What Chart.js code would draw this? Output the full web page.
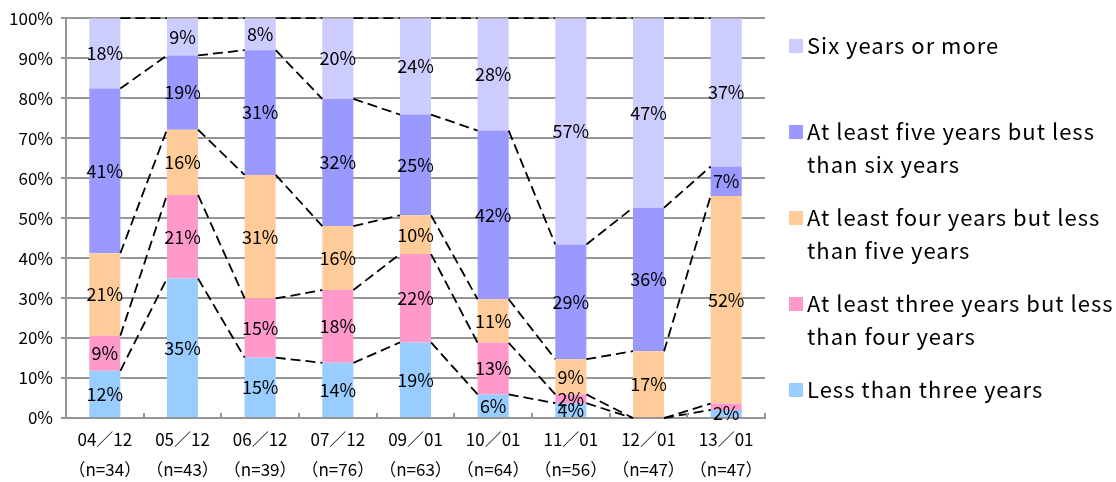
<!DOCTYPE html>
<html>
<head>
<meta charset="utf-8">
<script src="https://cdn.jsdelivr.net/npm/chart.js@4/dist/chart.umd.min.js"></script>
<style>
html, body { margin: 0; padding: 0; background: #fff; }
</style>
</head>
<body>
<canvas id="tenure__chart" width="1116" height="482"></canvas>
<script>
var categories = ["04／12","05／12","06／12","07／12","09／01","10／01","11／01","12／01","13／01"];
var sampleSizes = [34, 43, 39, 76, 63, 64, 56, 47, 47];

var lessThree   = [11.8, 34.9, 15.1, 13.8, 18.9,  5.9,  3.7,  0.0,  2.0];
var threeToFour = [ 8.8, 20.9, 14.8, 18.2, 22.1, 12.9,  2.2,  0.0,  1.6];
var fourToFive  = [20.6, 16.3, 30.9, 16.0,  9.7, 10.9,  8.8, 16.7, 51.9];
var fiveToSix   = [41.2, 18.6, 31.2, 31.8, 25.2, 42.2, 28.7, 35.9,  7.4];
var sixOrMore   = [17.6,  9.3,  8.0, 20.2, 24.1, 28.1, 56.6, 47.4, 37.1];

var yTicks = [0, 10, 20, 30, 40, 50, 60, 70, 80, 90, 100];

var legendText = [
    ["Six years or more"],
    ["At least five years but less", "than six years"],
    ["At least four years but less", "than five years"],
    ["At least three years but less", "than four years"],
    ["Less than three years"]
];

var FONT = "'Noto Sans CJK JP', 'Noto Sans', sans-serif";
var GRID = "#969696";

var xLabels = categories.map(function (c, i) {
    return [c, "（n=" + sampleSizes[i] + "）"];
});

// segment labels in the middle of each bar piece
var segmentLabels = {
    id: "segmentLabels",
    afterDatasetsDraw: function (chart) {
        var ctx = chart.ctx;
        ctx.save();
        ctx.font = "18px " + FONT;
        ctx.fillStyle = "#000";
        ctx.textAlign = "center";
        ctx.textBaseline = "middle";
        chart.data.datasets.forEach(function (ds, d) {
            var meta = chart.getDatasetMeta(d);
            meta.data.forEach(function (bar, i) {
                var v = ds.data[i];
                if (v < 1.8) return;
                ctx.fillText(Math.round(v) + "%", bar.x, (bar.y + bar.base) / 2);
            });
        });
        ctx.restore();
    }
};

// dashed series lines between stacked tops
var seriesLines = {
    id: "seriesLines",
    afterDatasetsDraw: function (chart) {
        var ctx = chart.ctx;
        ctx.save();
        ctx.strokeStyle = "#000";
        ctx.lineWidth = 1.8;
        ctx.setLineDash([10, 5]);
        chart.data.datasets.forEach(function (ds, d) {
            var bars = chart.getDatasetMeta(d).data;
            for (var i = 0; i < bars.length - 1; i++) {
                var a = bars[i], b = bars[i + 1];
                ctx.beginPath();
                ctx.moveTo(a.x + a.width / 2, a.y);
                ctx.lineTo(b.x - b.width / 2, b.y);
                ctx.stroke();
            }
        });
        ctx.restore();
    }
};

// small inner tick marks between categories + legend on the right
var extras = {
    id: "extras",
    afterDraw: function (chart) {
        var ctx = chart.ctx;
        var area = chart.chartArea;
        var n = categories.length;
        var step = (area.right - area.left) / n;
        ctx.save();
        ctx.strokeStyle = GRID;
        ctx.lineWidth = 2;
        for (var i = 1; i <= n; i++) {
            var x = Math.round(area.left + i * step);
            ctx.beginPath();
            ctx.moveTo(x, area.bottom - 5);
            ctx.lineTo(x, area.bottom);
            ctx.stroke();
        }

        var colors = chart.data.datasets.map(function (ds) { return ds.backgroundColor; }).reverse();
        var rowY = [46, 132, 218, 304, 390];
        ctx.font = "22px " + FONT;
        ctx.letterSpacing = "1px";
        ctx.textAlign = "left";
        ctx.textBaseline = "middle";
        legendText.forEach(function (lines, k) {
            ctx.fillStyle = colors[k];
            ctx.fillRect(789, rowY[k] - 7, 14, 14);
            ctx.fillStyle = "#000";
            lines.forEach(function (t, j) {
                ctx.fillText(t, 807, rowY[k] + j * 33);
            });
        });
        ctx.restore();
    }
};

var ctxTenure = document.getElementById("tenure__chart");
new Chart(ctxTenure, {
    type: 'bar',
    data: {
        labels: xLabels,
        datasets: [
            { label: "Less than three years", data: lessThree, backgroundColor: "#99CCFF" },
            { label: "At least three years but less than four years", data: threeToFour, backgroundColor: "#FF99CC" },
            { label: "At least four years but less than five years", data: fourToFive, backgroundColor: "#FFCC99" },
            { label: "At least five years but less than six years", data: fiveToSix, backgroundColor: "#9999FF" },
            { label: "Six years or more", data: sixOrMore, backgroundColor: "#CCCCFF" }
        ]
    },
    options: {
        responsive: false,
        animation: false,
        devicePixelRatio: 1,
        layout: { padding: { top: 17, right: 351, left: 0, bottom: 0 } },
        datasets: { bar: { barPercentage: 0.4, categoryPercentage: 1 } },
        plugins: {
            legend: { display: false },
            tooltip: { enabled: false }
        },
        scales: {
            x: {
                stacked: true,
                grid: { display: true, drawOnChartArea: false, drawTicks: false },
                border: { display: true, color: GRID, width: 2 },
                ticks: {
                    color: "#000",
                    padding: 7,
                    maxRotation: 0,
                    font: { family: FONT, size: 17, lineHeight: 1.76 }
                },
                afterFit: function (scale) { scale.height = 64; }
            },
            y: {
                stacked: true,
                min: 0,
                max: 100,
                afterBuildTicks: function (scale) {
                    scale.ticks = yTicks.map(function (v) { return { value: v }; });
                },
                grid: { color: GRID, lineWidth: 2, tickLength: 5 },
                border: { display: true, color: GRID, width: 2 },
                ticks: {
                    color: "#000",
                    padding: 8,
                    font: { family: FONT, size: 17 },
                    callback: function (v) { return v + "%"; }
                },
                afterFit: function (scale) { scale.width = 66; }
            }
        }
    },
    plugins: [segmentLabels, seriesLines, extras]
});
</script>
</body>
</html>
